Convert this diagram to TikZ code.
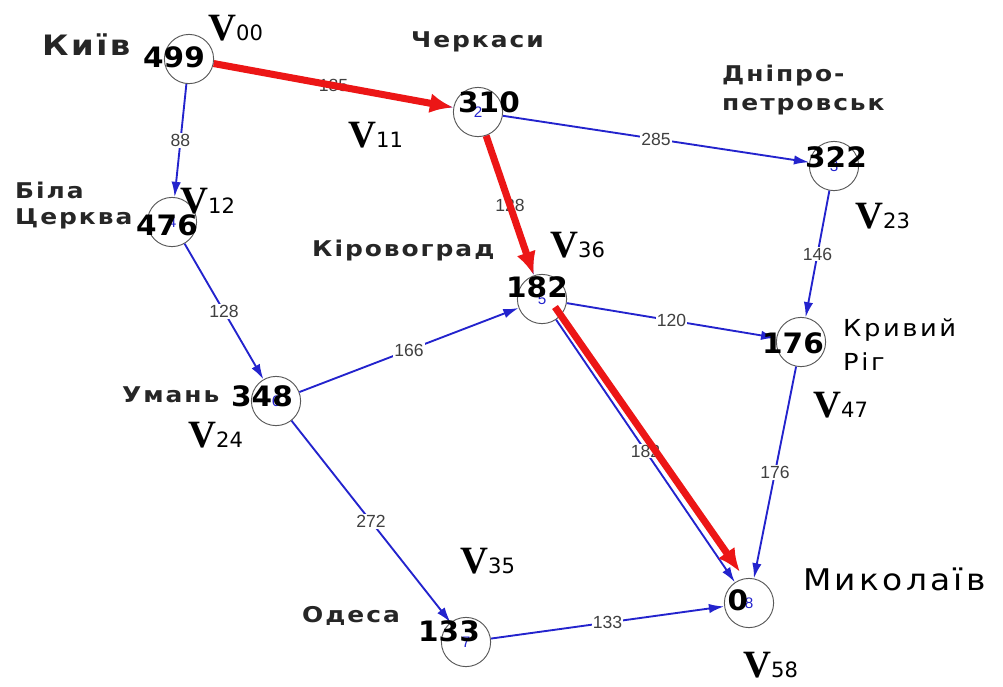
\documentclass[tikz,border=0pt]{standalone}
\usepackage{fontspec}
\setmainfont{DejaVu Sans}
\newfontfamily\citybf[FakeStretch=1.15,LetterSpace=9]{DejaVu Sans}
\newfontfamily\cityrm[FakeStretch=1.1,LetterSpace=11]{DejaVu Sans}
\newfontfamily\valfont[FakeStretch=1.05]{DejaVu Sans}
\newfontfamily\serifv{Liberation Serif}
\newfontfamily\sanslab{Liberation Sans}
\usetikzlibrary{arrows.meta,calc}
\definecolor{roadblue}{RGB}{35,35,205}
\definecolor{pathred}{RGB}{236,22,22}
\newcommand{\vlab}[1]{{\serifv\bfseries\fontsize{33pt}{33pt}\selectfont V}{\fontsize{18pt}{18pt}\selectfont #1}}

\begin{document}
\begin{tikzpicture}[x=0.03cm,y=-0.03cm,
  vert/.style={circle,draw=black!65,line width=0.8pt,fill=white,minimum size=42pt,inner sep=0pt,font=\sanslab\fontsize{13pt}{13pt}\selectfont,text=roadblue},
  road/.style={draw=roadblue,line width=1.6pt,-{Latex[length=13pt,width=8pt]}},
  best/.style={draw=pathred,line width=6pt,-{Latex[length=20pt,width=17pt]}},
  dist/.style={fill=white,inner sep=1pt,font=\sanslab\fontsize{15pt}{15pt}\selectfont,text=black!75},
  val/.style={inner sep=0pt,font=\valfont\bfseries\fontsize{24pt}{24pt}\selectfont},
  city/.style={inner sep=0pt,anchor=base west,text=black!85,font=\citybf\bfseries\fontsize{18.5pt}{22pt}\selectfont},
  cityl/.style={city,text=black,font=\cityrm\fontsize{20pt}{29pt}\selectfont},
  stage/.style={inner sep=0pt,anchor=base west}]
\useasboundingbox (0,0) rectangle (1003,686);
\node[vert] (kyiv) at (189,59) {};
\node[vert] (cherk) at (478,112) {\raisebox{-5pt}{2}};
\node[vert] (dnipro) at (834,166) {\raisebox{-5pt}{3}};
\node[vert] (bila) at (172,222) {\raisebox{-3pt}{4}};
\node[vert] (kirov) at (542,299) {\raisebox{-4pt}{5}};
\node[vert] (kryvyi) at (801,342) {};
\node[vert] (uman) at (276,401) {\raisebox{-5pt}{6}};
\node[vert] (odesa) at (466,642) {\raisebox{-6pt}{7}};
\node[vert] (mykol) at (749,603) {\raisebox{-2pt}{8}};
\draw[road] (kyiv) -- node[dist]{185} (cherk);
\draw[road] (kyiv) -- node[dist]{88} (bila);
\draw[road] (cherk) -- node[dist]{285} (dnipro);
\draw[road] (cherk) -- node[dist]{128} (kirov);
\draw[road] (dnipro) -- node[dist]{146} (kryvyi);
\draw[road] (bila) -- node[dist]{128} (uman);
\draw[road] (uman) -- node[dist]{166} (kirov);
\draw[road] (uman) -- node[dist]{272} (odesa);
\draw[road] (kirov) -- node[dist]{120} (kryvyi);
\draw[road] (kirov) -- node[dist]{182} (mykol);
\draw[road] (kryvyi) -- node[dist]{176} (mykol);
\draw[road] (odesa) -- node[dist]{133} (mykol);
\draw[best] (kyiv) -- (cherk);
\draw[best] (cherk) -- (kirov);
\draw[best] ($(kirov)+(13,8)$) -- ($(mykol)+(-9,-31)$);
\node[val] at ($(kyiv)+(-15,-2)$) {499};
\node[val] at ($(cherk)+(11,-10)$) {310};
\node[val] at ($(dnipro)+(2,-9)$) {322};
\node[val] at ($(bila)+(-5,3)$) {476};
\node[val] at ($(kirov)+(-5,-12)$) {182};
\node[val] at ($(kryvyi)+(-8,1)$) {176};
\node[val] at ($(uman)+(-14,-5)$) {348};
\node[val] at ($(odesa)+(-17,-11)$) {133};
\node[val] at ($(mykol)+(-11,-3)$) {0};
\node[stage] at (208,40) {\vlab{00}};
\node[stage] at (348,147) {\vlab{11}};
\node[stage] at (180,213) {\vlab{12}};
\node[stage] at (855,228) {\vlab{23}};
\node[stage] at (550,257) {\vlab{36}};
\node[stage] at (813,417) {\vlab{47}};
\node[stage] at (188,447) {\vlab{24}};
\node[stage] at (460,573) {\vlab{35}};
\node[stage] at (743,677) {\vlab{58}};
\node[city,font=\citybf\bfseries\fontsize{24pt}{24pt}\selectfont] at (42,55) {Київ};
\node[city] at (411,47) {Черкаси};
\node[city,font=\citybf\bfseries\fontsize{18.5pt}{24.7pt}\selectfont,align=left,anchor=north west] at (722,65) {Дніпро-\\петровськ};
\node[city,align=left,anchor=north west] at (15,182) {Біла\\Церква};
\node[city] at (312,256) {Кіровоград};
\node[cityl,align=left,anchor=north west] at (843,318) {Кривий\\Ріг};
\node[city] at (122,402) {Умань};
\node[city] at (302,622) {Одеса};
\node[cityl,font=\cityrm\fontsize{25.5pt}{26pt}\selectfont] at (803,590) {Миколаїв};
\end{tikzpicture}
\end{document}
